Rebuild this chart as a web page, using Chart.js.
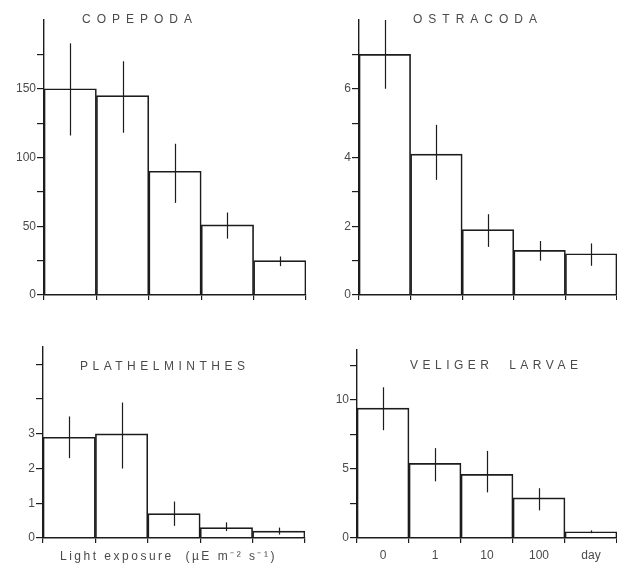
<!DOCTYPE html>
<html>
<head>
<meta charset="utf-8">
<script src="https://cdn.jsdelivr.net/npm/chart.js@4/dist/chart.umd.min.js"></script>
<style>
  body { margin: 0; background: #fff; }
  #wrap { position: relative; width: 617px; height: 565px; }
  #wrap div { position: absolute; }
</style>
</head>
<body>
<div id="wrap">
  <div style="left:0;top:0;width:310px;height:310px"><canvas id="cop"></canvas></div>
  <div style="left:307px;top:0;width:310px;height:310px"><canvas id="ost"></canvas></div>
  <div style="left:0;top:320px;width:310px;height:245px"><canvas id="pla"></canvas></div>
  <div style="left:307px;top:320px;width:310px;height:245px"><canvas id="vel"></canvas></div>
</div>
<script>
// exposure classes (x axis)
const categories = ['0', '1', '10', '100', 'day'];

// mean values and error bar ends
const copepoda   = [150, 145, 90, 51, 25];
const copepodaLo = [116, 118, 67, 41, 21];
const copepodaHi = [183, 170, 110, 60, 28];

const ostracoda   = [7.0, 4.1, 1.9, 1.3, 1.2];
const ostracodaLo = [6.0, 3.35, 1.4, 1.0, 0.85];
const ostracodaHi = [8.0, 4.95, 2.35, 1.57, 1.5];

const plathelminthes   = [2.9, 3.0, 0.7, 0.3, 0.2];
const plathelminthesLo = [2.3, 2.0, 0.35, 0.2, 0.1];
const plathelminthesHi = [3.5, 3.9, 1.05, 0.45, 0.3];

const veliger   = [9.4, 5.4, 4.6, 2.9, 0.45];
const veligerLo = [7.8, 4.1, 3.3, 2.0, 0.35];
const veligerHi = [10.9, 6.5, 6.3, 3.6, 0.55];

// y tick labels shown on each panel
const copepodaTicks = [0, 50, 100, 150];
const ostracodaTicks = [0, 2, 4, 6];
const plathelminthesTicks = [0, 1, 2, 3];
const veligerTicks = [0, 5, 10];

const ink = '#1c1c1c';
const grey = '#4a4a4a';

// vertical error bars, drawn over the bars
const errorBars = {
  id: 'errorBars',
  afterDatasetsDraw(chart) {
    const ds = chart.data.datasets[0];
    const x = chart.scales.x, y = chart.scales.y;
    const ctx = chart.ctx;
    ctx.save();
    ctx.strokeStyle = ink;
    ctx.lineWidth = 1.2;
    ds.data.forEach((v, i) => {
      const px = Math.round(x.getPixelForValue(i)) + 0.5;
      ctx.beginPath();
      ctx.moveTo(px, y.getPixelForValue(ds.lo[i]));
      ctx.lineTo(px, y.getPixelForValue(ds.hi[i]));
      ctx.stroke();
    });
    ctx.restore();
  }
};

// spaced capital titles inside the plot, and the axis caption
const panelText = {
  id: 'panelText',
  afterDraw(chart, args, opts) {
    const ctx = chart.ctx;
    ctx.save();
    ctx.fillStyle = grey;
    ctx.textBaseline = 'middle';
    ctx.textAlign = 'left';
    (opts.items || []).forEach(t => {
      ctx.font = t.size + 'px "Liberation Sans", Arial, sans-serif';
      ctx.letterSpacing = t.spacing + 'px';
      ctx.fillText(t.text, t.x, t.y);
    });
    ctx.restore();
  }
};

function makePanel(id, values, lo, hi, yMax, step, labels, box, texts, showX) {
  new Chart(document.getElementById(id), {
    type: 'bar',
    data: {
      labels: categories,
      datasets: [{
        data: values,
        lo: lo,
        hi: hi,
        backgroundColor: 'rgba(255,255,255,0)',
        borderColor: ink,
        borderWidth: 1,
        borderSkipped: 'start',
        categoryPercentage: 1,
        barPercentage: 1
      }]
    },
    options: {
      responsive: true,
      maintainAspectRatio: false,
      animation: false,
      layout: { padding: { left: 0, top: box.top, right: box.right, bottom: 0 } },
      plugins: {
        legend: { display: false },
        tooltip: { enabled: false },
        panelText: { items: texts }
      },
      scales: {
        x: {
          offset: true,
          grid: { offset: true, drawOnChartArea: false, drawTicks: true, tickLength: 5, color: ink, lineWidth: 1.2 },
          border: { display: true, color: ink, width: 1.4 },
          ticks: {
            display: showX,
            padding: 5,
            color: grey,
            font: { family: '"Liberation Sans", Arial, sans-serif', size: 12 }
          },
          afterFit(s) { s.height = box.xh; }
        },
        y: {
          min: 0,
          max: yMax,
          afterBuildTicks(s) {
            s.ticks = [];
            for (let v = 0; v < yMax - 1e-6; v += step) s.ticks.push({ value: +v.toFixed(3) });
          },
          grid: { drawOnChartArea: false, drawTicks: true, tickLength: 7, color: ink, lineWidth: 1.2 },
          border: { display: true, color: ink, width: 1.4 },
          ticks: {
            padding: 1,
            color: grey,
            font: { family: '"Liberation Sans", Arial, sans-serif', size: 12 },
            callback: v => labels.includes(+v) ? String(v) : ''
          },
          afterFit(s) { s.width = box.yw; }
        }
      }
    },
    plugins: [errorBars, panelText]
  });
}

makePanel('cop', copepoda, copepodaLo, copepodaHi, 200, 25, copepodaTicks,
  { top: 20, right: 4, yw: 44, xh: 15 },
  [{ text: 'COPEPODA', x: 82, y: 20, size: 12, spacing: 6 }], false);

makePanel('ost', ostracoda, ostracodaLo, ostracodaHi, 8, 1, ostracodaTicks,
  { top: 20, right: 0, yw: 52, xh: 15 },
  [{ text: 'OSTRACODA', x: 106, y: 20, size: 12, spacing: 6 }], false);

makePanel('pla', plathelminthes, plathelminthesLo, plathelminthesHi, 5.5, 1, plathelminthesTicks,
  { top: 27, right: 5, yw: 43, xh: 27 },
  [{ text: 'PLATHELMINTHES', x: 80, y: 47, size: 12, spacing: 4.5 },
   { text: 'Light exposure  (\u00b5E m\u207b\u00b2 s\u207b\u00b9)', x: 60, y: 237, size: 12, spacing: 2.5 }], false);

makePanel('vel', veliger, veligerLo, veligerHi, 13.6, 2.5, veligerTicks,
  { top: 30, right: 0, yw: 50, xh: 27 },
  [{ text: 'VELIGER  LARVAE', x: 103, y: 46, size: 12, spacing: 4.5 }], true);
</script>
</body>
</html>
